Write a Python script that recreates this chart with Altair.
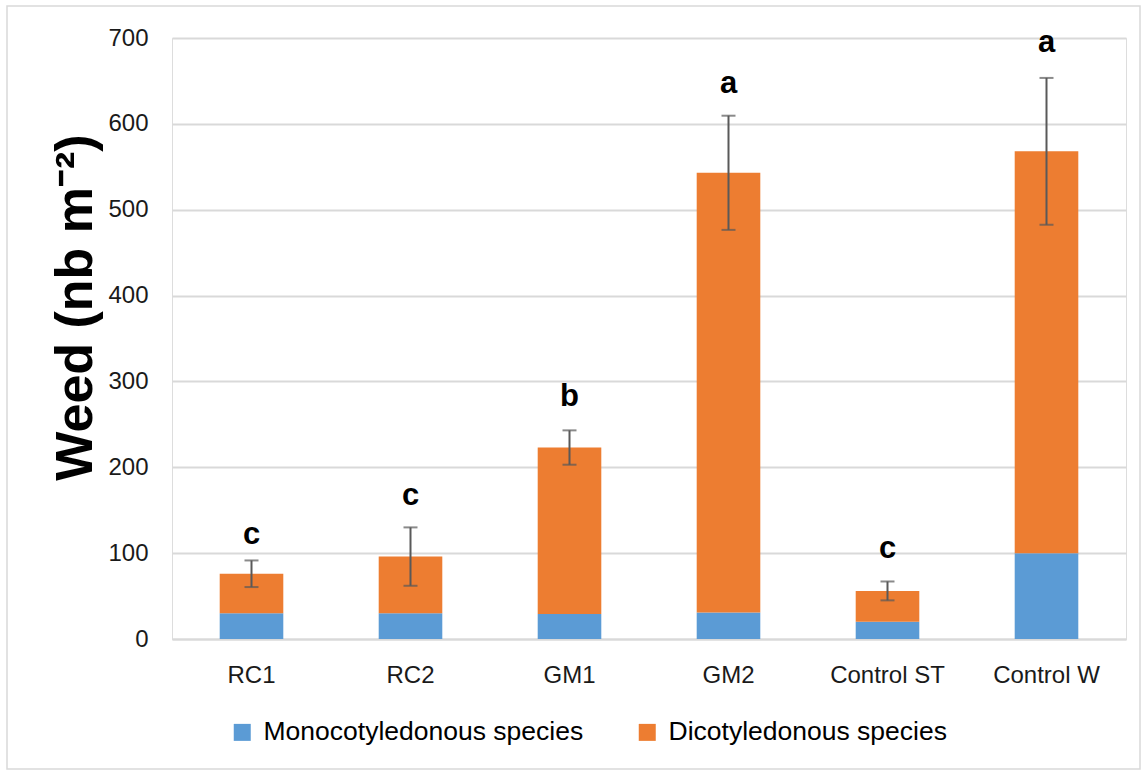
import altair as alt
import pandas as pd

categories = ["RC1", "RC2", "GM1", "GM2", "Control ST", "Control W"]
mono = [30, 30, 29, 31, 20, 100]
dico = [46, 66, 194, 512, 36, 468]
totals = [76, 96, 223, 543, 56, 568]
errors = [15.5, 34, 20, 66.5, 11, 85.5]
letters = ["c", "c", "b", "a", "c", "a"]
letter_y = [121, 166, 282, 647, 105, 694]
series = ["Monocotyledonous species", "Dicotyledonous species"]
colors = ["#5B9BD5", "#ED7D31"]

rows = []
for c, m, d in zip(categories, mono, dico):
    rows.append({"cat": c, "series": series[0], "val": m, "ord": 0})
    rows.append({"cat": c, "series": series[1], "val": d, "ord": 1})
df = pd.DataFrame(rows)

edf = pd.DataFrame({
    "cat": categories,
    "lo": [t - e for t, e in zip(totals, errors)],
    "hi": [t + e for t, e in zip(totals, errors)],
    "letter": letters,
    "ly": letter_y,
})

FONT = "Liberation Sans"
xsc = alt.Scale(domain=categories, paddingInner=0.6, paddingOuter=0.3)
ysc = alt.Scale(domain=[0, 700], nice=False)

bars = alt.Chart(df).mark_bar().encode(
    x=alt.X("cat:N", scale=xsc, sort=categories, title=None,
            axis=alt.Axis(labelAngle=0, labelFontSize=24, labelColor="#1a1a1a",
                          labelFont=FONT, labelPadding=24, ticks=False,
                          domainColor="#d9d9d9", domainWidth=2)),
    y=alt.Y("val:Q", stack="zero", scale=ysc,
            title="Weed (nb m⁻²)",
            axis=alt.Axis(values=[0, 100, 200, 300, 400, 500, 600, 700],
                          labelFontSize=24, labelColor="#1a1a1a", labelFont=FONT,
                          labelPadding=24, ticks=False, domain=False,
                          gridColor="#d9d9d9", gridWidth=2,
                          titleFontSize=52, titleFont=FONT, titleFontWeight="bold",
                          titleColor="#000000", titleX=-97, titleY=269,
                          titleAngle=-90, titleAlign="center", titleBaseline="middle")),
    color=alt.Color("series:N", scale=alt.Scale(domain=series, range=colors),
                    legend=alt.Legend(title=None, orient="none", direction="horizontal",
                                      legendX=57, legendY=681, symbolType="square",
                                      symbolSize=289, symbolStrokeWidth=0,
                                      labelFontSize=26.5, labelFont=FONT,
                                      labelColor="#000000", columnPadding=50,
                                      labelOffset=8, labelLimit=0,
                                      symbolOpacity=1)),
    order=alt.Order("ord:Q", sort="ascending"),
)

rule = alt.Chart(edf).mark_rule(color="#595959", strokeWidth=2).encode(
    x=alt.X("cat:N", scale=xsc, sort=categories),
    y=alt.Y("lo:Q", scale=ysc),
    y2="hi:Q",
)
cap_lo = alt.Chart(edf).mark_tick(color="#595959", thickness=2, size=14).encode(
    x=alt.X("cat:N", scale=xsc, sort=categories),
    y=alt.Y("lo:Q", scale=ysc),
)
cap_hi = alt.Chart(edf).mark_tick(color="#595959", thickness=2, size=14).encode(
    x=alt.X("cat:N", scale=xsc, sort=categories),
    y=alt.Y("hi:Q", scale=ysc),
)
labels = alt.Chart(edf).mark_text(fontSize=31, fontWeight="bold", font=FONT,
                                  color="#000000", baseline="middle").encode(
    x=alt.X("cat:N", scale=xsc, sort=categories),
    y=alt.Y("ly:Q", scale=ysc),
    text="letter:N",
)
frame = alt.Chart(pd.DataFrame({"a": [0]})).mark_rect(
    fill=None, stroke="#d9d9d9", strokeWidth=1.5).encode(
    x=alt.value(-165), x2=alt.value(968), y=alt.value(-32), y2=alt.value(731),
)

chart = alt.layer(frame, bars, rule, cap_lo, cap_hi, labels).properties(
    width=954, height=601,
    autosize=alt.AutoSizeParams(type="none"),
    padding={"left": 172, "top": 38, "right": 17, "bottom": 132},
).configure_view(stroke=None).configure(background="white")

chart.save("out.html", embed_options={"renderer": "svg", "actions": False})
